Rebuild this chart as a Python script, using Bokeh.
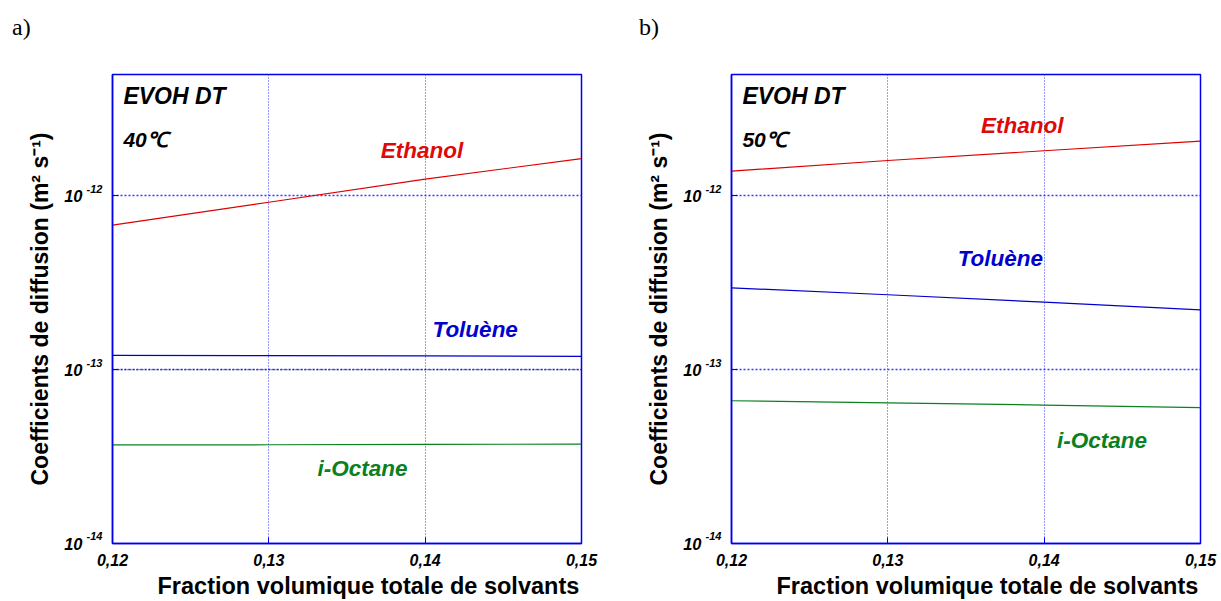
from bokeh.plotting import figure
from bokeh.layouts import row, column
from bokeh.core.properties import value
from bokeh.models import (FixedTicker, Range1d, Label, LabelSet, LogAxis,
                          ColumnDataSource, Span, Title, Div)
from bokeh.embed import file_html
from bokeh.resources import INLINE

# ---------------- data ----------------
x_frac = [0.12, 0.13, 0.14, 0.15]
x_ticks = [0.12, 0.13, 0.14, 0.15]
x_tick_labels = ["0,12", "0,13", "0,14", "0,15"]
y_ticks = [1e-14, 1e-13, 1e-12]
y_tick_base = ["10", "10", "10"]
y_tick_exp = ["-14", "-13", "-12"]

# panel a) 40 °C
ethanol_40 = [6.8e-13, 9.2e-13, 1.25e-12, 1.64e-12]
toluene_40 = [1.21e-13, 1.205e-13, 1.20e-13, 1.195e-13]
octane_40 = [3.69e-14, 3.70e-14, 3.72e-14, 3.73e-14]

# panel b) 50 °C
ethanol_50 = [1.39e-12, 1.60e-12, 1.82e-12, 2.07e-12]
toluene_50 = [2.96e-13, 2.70e-13, 2.45e-13, 2.21e-13]
octane_50 = [6.63e-14, 6.44e-14, 6.26e-14, 6.05e-14]

series_names = ["Ethanol", "Toluène", "i-Octane"]
line_colors = ["#dd0000", "#0000cc", "#0a8020"]
text_colors = ["#dd0a0a", "#0000d0", "#0a8020"]

# label anchors (data units) for the series names
lab_x_40 = [0.1398, 0.1432, 0.1360]
lab_y_40 = [1.82e-12, 1.70e-13, 2.70e-14]
lab_x_50 = [0.1386, 0.1372, 0.1437]
lab_y_50 = [2.56e-12, 4.35e-13, 3.91e-14]

info_x = 0.1207
info_y = [3.76e-12, 2.10e-12]

x_label = "Fraction volumique totale de solvants"
y_label = "Coefficients de diffusion (m² s⁻¹)"

FONT = "Liberation Sans"
BLUE = "#0000ee"


def style_axis(ax):
    ax.major_label_text_font = FONT
    ax.major_label_text_font_style = "bold italic"
    ax.major_label_text_color = "black"
    ax.minor_tick_line_color = None
    ax.axis_label_text_font = FONT
    ax.axis_label_text_font_style = "bold"
    ax.axis_label_text_font_size = "23px"
    ax.axis_label_text_color = "black"


def make_panel(letter, temp, ys, lab_x, lab_y, width, left_border, right_border, dark_1e13):
    p = figure(width=width, height=561, y_axis_type="log",
               x_range=Range1d(0.12, 0.15), y_range=Range1d(1e-14, 5e-12),
               output_backend="svg", toolbar_location=None,
               min_border_left=left_border, min_border_right=right_border,
               min_border_top=34, min_border_bottom=58)
    p.background_fill_color = "white"
    p.border_fill_color = "white"
    p.outline_line_color = BLUE
    p.outline_line_width = 1.5

    # x axis
    xax = p.xaxis[0]
    style_axis(xax)
    xax.ticker = FixedTicker(ticks=x_ticks)
    xax.major_label_overrides = {v: s for v, s in zip(x_ticks, x_tick_labels)}
    xax.axis_line_color = BLUE
    xax.axis_line_width = 1.5
    xax.major_tick_line_color = BLUE
    xax.major_tick_in = 6
    xax.major_tick_out = 0
    xax.major_label_text_font_size = "16px"
    xax.major_label_standoff = 10

    # x axis title (slightly right of centre, as in the original)
    xt = Title(text=x_label, align="left", offset=45,
               text_font=FONT, text_font_style="bold", text_font_size="23.5px",
               text_color="black")
    xt.standoff = 4
    p.add_layout(xt, "below")

    # y axis: exponents (next to the frame)
    yexp = p.yaxis[0]
    style_axis(yexp)
    yexp.ticker = FixedTicker(ticks=y_ticks)
    yexp.major_label_overrides = {v: s + "\n" for v, s in zip(y_ticks, y_tick_exp)}
    yexp.axis_line_color = BLUE
    yexp.axis_line_width = 1.5
    yexp.major_tick_line_color = BLUE
    yexp.major_tick_in = 6
    yexp.major_tick_out = 0
    yexp.major_label_text_font_size = "11px"
    yexp.major_label_standoff = 10

    # y axis: mantissa "10" (outer)
    ybase = LogAxis(ticker=FixedTicker(ticks=y_ticks))
    style_axis(ybase)
    ybase.major_label_overrides = {v: s for v, s in zip(y_ticks, y_tick_base)}
    ybase.axis_line_color = None
    ybase.major_tick_line_color = None
    ybase.major_label_text_font_size = "16.5px"
    ybase.major_label_standoff = -5
    ybase.axis_label = y_label
    ybase.axis_label_standoff = 8
    p.add_layout(ybase, "left")

    # grid
    p.xgrid.ticker = FixedTicker(ticks=x_ticks)
    p.ygrid.ticker = FixedTicker(ticks=y_ticks)
    p.xgrid.grid_line_color = "#2020ff"
    p.xgrid.grid_line_alpha = 0.9
    p.xgrid.grid_line_dash = "1 2"
    p.ygrid.grid_line_color = "#2020ff"
    p.ygrid.grid_line_alpha = 0.9
    p.ygrid.grid_line_width = 1.3
    p.ygrid.grid_line_dash = "2 2"
    if dark_1e13:
        p.add_layout(Span(location=y_ticks[1], dimension="width",
                          line_color="#000033", line_dash="1 2", line_width=1))

    # series
    for yv, c in zip(ys, line_colors):
        p.line(x_frac, yv, line_color=c, line_width=1.2)

    lsrc = ColumnDataSource(dict(x=lab_x, y=lab_y, t=series_names, c=text_colors))
    p.add_layout(LabelSet(x="x", y="y", text="t", source=lsrc, text_color="c",
                          text_align="center", text_baseline="middle",
                          text_font=value(FONT), text_font_style="bold italic",
                          text_font_size="22.5px"))

    p.add_layout(Label(x=info_x, y=info_y[0], text="EVOH DT", text_align="left",
                       text_baseline="middle", text_font=FONT,
                       text_font_style="bold italic", text_font_size="23px",
                       text_color="black"))
    p.add_layout(Label(x=info_x, y=info_y[1], text=temp, text_align="left",
                       text_baseline="middle", text_font=FONT,
                       text_font_style="bold italic", text_font_size="21px",
                       text_color="black"))

    head = Div(text=letter, width=width - 12, height=25, margin=(15, 0, 0, 12),
               styles={"font-family": "Liberation Serif", "font-size": "24px",
                       "line-height": "1", "color": "black"})
    return column(head, p, spacing=0)


pa = make_panel("a)", "40℃", [ethanol_40, toluene_40, octane_40],
                lab_x_40, lab_y_40, 627, 112, 46, True)
pb = make_panel("b)", "50℃", [ethanol_50, toluene_50, octane_50],
                lab_x_50, lab_y_50, 594, 104, 21, False)

layout = row(pa, pb, spacing=0)
open("out.html", "w").write(file_html(layout, INLINE))
